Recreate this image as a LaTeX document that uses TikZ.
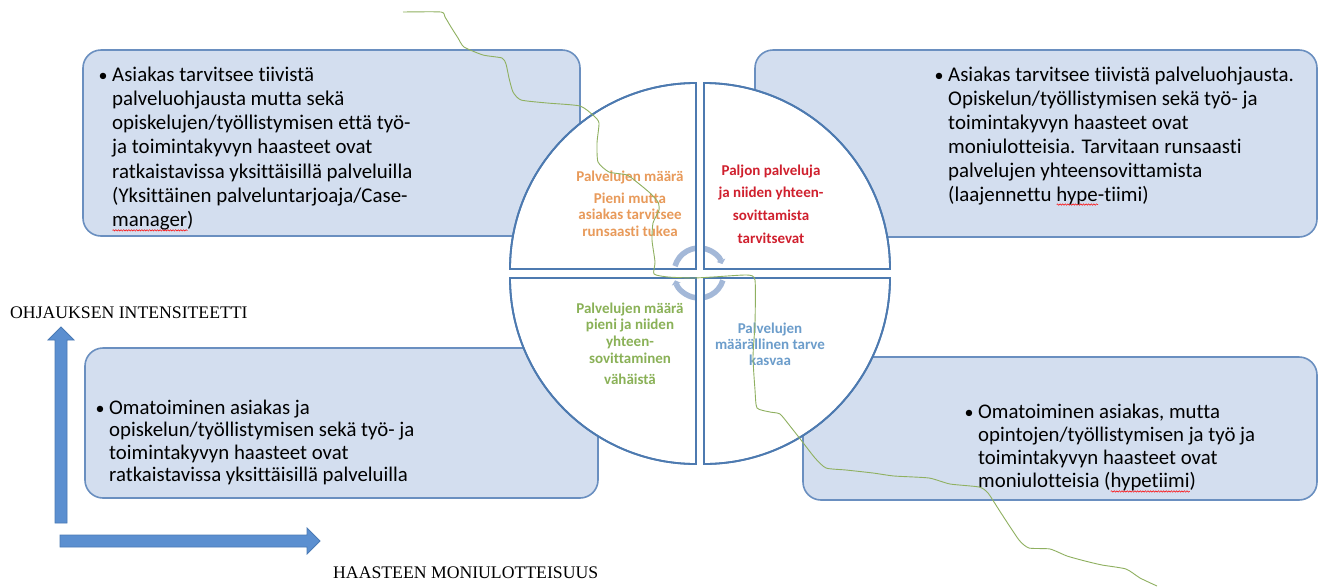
\documentclass[tikz,border=0pt]{standalone}
\usepackage{fontspec}
\setmainfont{Carlito}[Ligatures=NoCommon]
\newfontfamily\axisfont{Liberation Serif}
\usetikzlibrary{decorations.pathmorphing,arrows.meta}

\definecolor{boxfill}{HTML}{D3DEEF}
\definecolor{boxline}{HTML}{6A8FC0}
\definecolor{quadline}{HTML}{4D7AB0}
\definecolor{arrowfill}{HTML}{5B8FD0}
\definecolor{arrowline}{HTML}{4A7AB5}
\definecolor{qorange}{HTML}{E89A5A}
\definecolor{qred}{HTML}{D0202E}
\definecolor{qgreen}{HTML}{8AB157}
\definecolor{qblue}{HTML}{6C9DCB}
\definecolor{cyc}{HTML}{A3B8D8}
\definecolor{wavecol}{HTML}{8FB060}

\newsavebox\spellbox
\newcommand\spellerr[1]{\sbox\spellbox{#1}\leavevmode\rlap{\raisebox{-4.5pt}{\tikz[x=1pt,y=1pt]\draw[red,line width=0.5pt,decorate,decoration={snake,amplitude=0.7pt,segment length=2.6pt}] (0,0) -- (\wd\spellbox,0);}}\usebox\spellbox}

\begin{document}
\begin{tikzpicture}[x=1pt,y=-1pt,
  qbox/.style={draw=boxline, line width=1.6pt, fill=boxfill, rounded corners=18pt, inner sep=0pt},
  quadfill/.style={draw=quadline, line width=1.8pt, fill=white},
  quadedge/.style={draw=quadline, line width=1.8pt},
  bodytext/.style={anchor=base west, inner sep=0pt, font=\fontsize{20.9}{24.3}\selectfont},
  bul/.style={anchor=base west, inner sep=0pt, font=\fontsize{18}{24}\selectfont},
  qtext/.style={anchor=base, inner sep=0pt},
  axislabel/.style={anchor=base west, inner sep=0pt, font=\axisfont\fontsize{17.7}{20}\selectfont},
  bigarrow/.style={fill=arrowfill, draw=arrowline, line width=0.8pt},
  cycarc/.style={draw=cyc, line width=5.5pt},
  wavy/.style={draw=wavecol, line width=0.9pt},
]
\useasboundingbox (0,0) rectangle (1322,587);
\fill[white] (0,0) rectangle (1322,587);

% boxes
\node[qbox, minimum width=497pt, minimum height=186pt] (boxTL) at (331.5,143) {};
\node[qbox, minimum width=562pt, minimum height=187pt] (boxTR) at (1036,143.5) {};
\node[qbox, minimum width=513pt, minimum height=150pt] (boxBL) at (341.5,423) {};
\node[qbox, minimum width=514pt, minimum height=143pt] (boxBR) at (1060,428.5) {};

% box texts
\node[bul] (bTL) at (98.5,81) {•};
\node[bodytext] (tTL) at (112,81) {\parbox[t]{440pt}{\raggedright Asiakas tarvitsee tiivistä\\palveluohjausta mutta sekä\\opiskelujen/työllistymisen että työ-\\ja toimintakyvyn haasteet ovat\\ratkaistavissa yksittäisillä palveluilla\\(Yksittäinen palveluntarjoaja/Case-\\\spellerr{manager})}};

\node[bul] (bTR) at (934.5,81) {•};
\node[bodytext, font=\fontsize{20.9}{24}\selectfont] (tTR) at (948,81) {\parbox[t]{360pt}{\raggedright Asiakas tarvitsee tiivistä palveluohjausta.\\Opiskelun/työllistymisen sekä työ- ja\\toimintakyvyn haasteet ovat\\moniulotteisia. Tarvitaan runsaasti\\palvelujen yhteensovittamista\\(laajennettu \spellerr{hype}-tiimi)}};

\node[bul] (bBL) at (95.5,414) {•};
\node[bodytext, font=\fontsize{20.8}{22.6}\selectfont] (tBL) at (109,414) {\parbox[t]{440pt}{\raggedright Omatoiminen asiakas ja\\opiskelun/työllistymisen sekä työ- ja\\toimintakyvyn haasteet ovat\\ratkaistavissa yksittäisillä palveluilla}};

\node[bul] (bBR) at (964.5,418) {•};
\node[bodytext, font=\fontsize{20.8}{23.3}\selectfont] (tBR) at (978,418) {\parbox[t]{330pt}{\raggedright Omatoiminen asiakas, mutta\\opintojen/työllistymisen ja työ ja\\toimintakyvyn haasteet ovat\\moniulotteisia (\spellerr{hypetiimi})}};

% quadrants
\def\qTL{(696,269) -- (510,269) arc[start angle=180, end angle=270, radius=186] -- cycle}
\def\qTR{(704,269) -- (704,83) arc[start angle=270, end angle=360, radius=186] -- cycle}
\def\qBR{(704,278) -- (890,278) arc[start angle=0, end angle=90, radius=186] -- cycle}
\def\qBL{(696,278) -- (696,464) arc[start angle=90, end angle=180, radius=186] -- cycle}
\path[quadfill] \qTL;
\path[quadfill] \qTR;
\path[quadfill] \qBR;
\path[quadfill] \qBL;

% central cycle arrows
\draw[cycarc, -{Triangle[length=4pt,width=9pt]}] (675.0,266.1) arc[start angle=-164, end angle=-21, radius=25];
\draw[cycarc, -{Triangle[length=4pt,width=9pt]}] (722.9,280.3) arc[start angle=17, end angle=163, radius=25];
\fill[white] (697,240) rectangle (703,306);
\fill[white] (665,270) rectangle (735,277);
\path[quadedge] \qTL;
\path[quadedge] \qTR;
\path[quadedge] \qBR;
\path[quadedge] \qBL;

% quadrant texts
\node[qtext, text=qorange, font=\bfseries\fontsize{15}{16.5}\selectfont] (qtTL) at (630,181) {\parbox[t]{150pt}{\centering Palvelujen määrä\\[5.5pt]Pieni mutta\\asiakas tarvitsee\\runsaasti tukea}};
\node[qtext, text=qred, font=\bfseries\fontsize{15}{22.7}\selectfont] (qtTR) at (771,175) {\parbox[t]{150pt}{\centering Paljon palveluja\\ja niiden yhteen-\\sovittamista\\tarvitsevat}};
\node[qtext, text=qgreen, font=\bfseries\fontsize{15}{16.7}\selectfont] (qtBL) at (630,313) {\parbox[t]{150pt}{\centering Palvelujen määrä\\pieni ja niiden\\yhteen-\\sovittaminen\\[4.5pt]vähäistä}};
\node[qtext, text=qblue, font=\bfseries\fontsize{15}{16}\selectfont] (qtBR) at (770,333) {\parbox[t]{150pt}{\centering Palvelujen\\määrällinen tarve\\kasvaa}};

% axis arrows
\path[bigarrow] (55,523) -- (55,340) -- (48,340) -- (61,327) -- (74,340) -- (67,340) -- (67,523) -- cycle;
\path[bigarrow] (60,535) -- (307,535) -- (307,528) -- (320,541) -- (307,554) -- (307,547) -- (60,547) -- cycle;
\node[axislabel] (ylab) at (10,318) {OHJAUKSEN INTENSITEETTI};
\node[axislabel] (xlab) at (333,578) {HAASTEEN MONIULOTTEISUUS};

% freehand green line
\draw[wavy] plot[smooth, tension=0.35] coordinates {(403,12) (441,12) (445,17) (451,27) (458,38) (464,47) (483,55) (502,58) (506,64) (509,78) (513,92) (521,100) (547,103) (580,106) (594,116) (599,123) (597,143) (598,162) (609,172) (627,175) (638,183) (650,193) (658,202) (659,210) (653,223) (652,240) (655,262) (654,274) (668,277) (693,278) (713,277) (747,275) (755,280) (755,323) (753,357) (755,390) (757,408) (770,412) (780,414) (790,426) (801,440) (815,458) (826,468) (846,470) (873,473) (894,476) (929,478) (950,484) (979,487) (988,493) (1001,513) (1019,540) (1029,548) (1050,549) (1067,556) (1085,561) (1102,565) (1126,569) (1140,578) (1157,586)};
\end{tikzpicture}
\end{document}
